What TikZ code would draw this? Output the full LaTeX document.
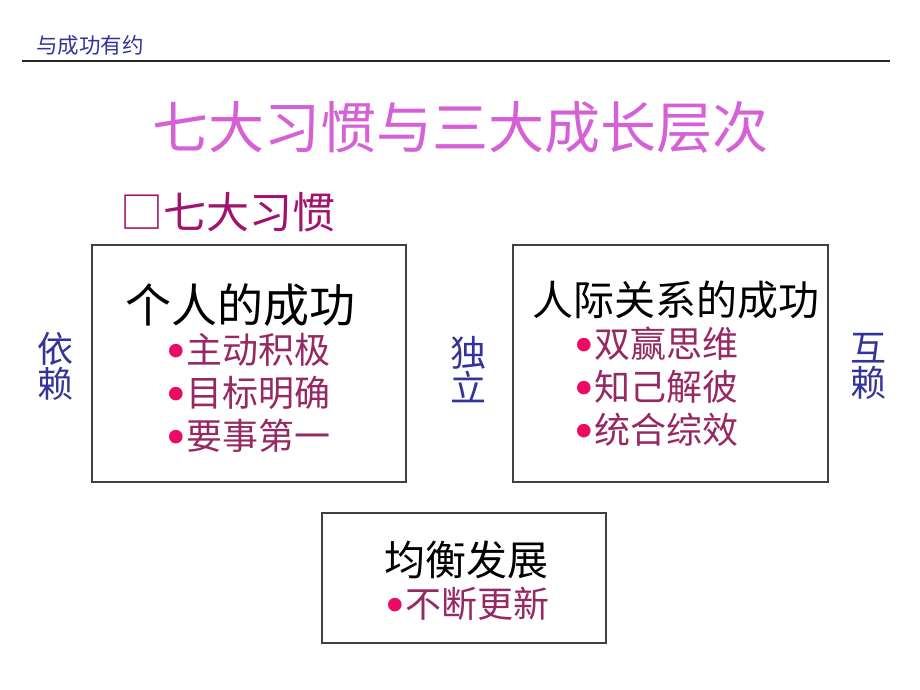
\documentclass[tikz,border=0pt]{standalone}
\usepackage{fontspec}
\setmainfont{Noto Sans CJK SC}
\newfontfamily\dotfont{DejaVu Sans}
\definecolor{headBlue}{RGB}{51,51,153}
\definecolor{titlePink}{RGB}{214,96,214}
\definecolor{subPink}{RGB}{160,20,110}
\definecolor{itemRed}{RGB}{150,40,100}
\definecolor{dotRed}{RGB}{235,10,100}
\newcommand{\bul}{\makebox[0.5em][l]{\hspace{-0.15em}\raisebox{-0.15em}{\dotfont\color{dotRed}\scalebox{1.3}{•}}}}
\begin{document}
\begin{tikzpicture}[
        x=1pt, y=-1pt,
        plainText/.style={inner sep=0pt, outer sep=0pt},
        headNode/.style={plainText, anchor=west, text=headBlue, font=\fontsize{21.5}{21.5}\selectfont},
        titleNode/.style={plainText, text=titlePink, font=\fontsize{56}{56}\selectfont},
        groupNode/.style={plainText, anchor=west, text=black, font=\fontsize{#1}{#1}\selectfont},
        itemNode/.style={plainText, anchor=west, text=itemRed, font=\fontsize{36}{36}\selectfont},
        sideNode/.style={plainText, align=center, text=headBlue, font=\fontsize{36}{35}\selectfont},
        boxNode/.style={draw=black!75, line width=1.2pt}
    ]
        \useasboundingbox (0,0) rectangle (920,690);

        % Header
        \node[headNode] (head) at (36,45) {与成功有约};
        \coordinate (lineL) at (22,61);
        \coordinate (lineR) at (890,61);
        \draw[line width=1.5pt, black!85] (lineL) -- (lineR);

        % Title
        \node[titleNode] (title) at (460,127) {七大习惯与三大成长层次};
        \node[plainText, anchor=west, text=subPink, font=\fontsize{43}{43}\selectfont] (sub) at (120,212) {□七大习惯};

        % Boxes
        \draw[boxNode] (92,245) rectangle (406,482);
        \draw[boxNode] (513,245) rectangle (828,482);
        \draw[boxNode] (322,513) rectangle (606,643);

        % Left box
        \node[groupNode=46] (personal) at (125,305) {个人的成功};
        \node[itemNode] (p1) at (168,351) {\bul 主动积极};
        \node[itemNode] (p2) at (168,394) {\bul 目标明确};
        \node[itemNode] (p3) at (168,437) {\bul 要事第一};

        % Right box
        \node[groupNode=41] (social) at (532,300) {人际关系的成功};
        \node[itemNode] (s1) at (576,345) {\bul 双赢思维};
        \node[itemNode] (s2) at (576,388) {\bul 知己解彼};
        \node[itemNode] (s3) at (576,431) {\bul 统合综效};

        % Bottom box
        \node[plainText, font=\fontsize{41}{41}\selectfont] (balance) at (466,560) {均衡发展};
        \node[itemNode] (b1) at (387,605) {\bul 不断更新};

        % Stage labels
        \node[sideNode] (dep) at (55,366) {依\\赖};
        \node[sideNode] (indep) at (468,370) {独\\立};
        \node[sideNode] (inter) at (868,366) {互\\赖};
    \end{tikzpicture}
\end{document}
